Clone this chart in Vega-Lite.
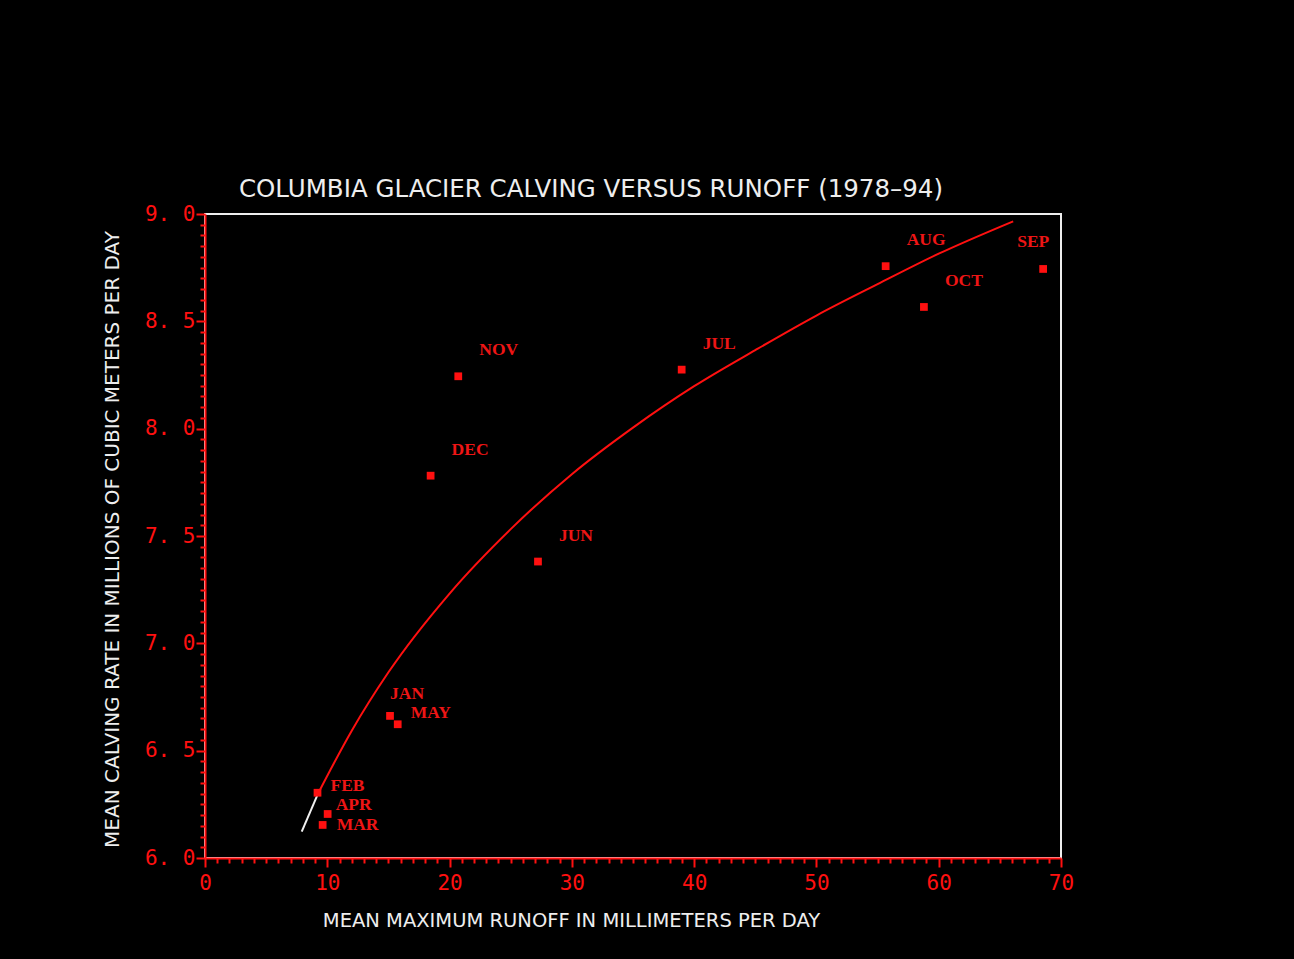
{
  "$schema": "https://vega.github.io/schema/vega-lite/v6.json",
  "autosize": "none",
  "width": 856,
  "height": 644,
  "padding": {"left": 205, "top": 214, "right": 233, "bottom": 101},
  "background": "#000000",
  "title": {
    "text": "COLUMBIA GLACIER CALVING VERSUS RUNOFF (1978–94)",
    "anchor": "middle",
    "dx": -42,
    "offset": 1,
    "font": "DejaVu Sans",
    "fontSize": 24.5,
    "fontWeight": "normal",
    "color": "#eeeeee"
  },
  "config": {
    "view": {"stroke": "#eeeeee", "strokeWidth": 2},
    "axis": {
      "grid": false,
      "domainColor": "#ff1010",
      "domainWidth": 2,
      "tickColor": "#ff1010",
      "tickWidth": 2,
      "labelColor": "#ff1010",
      "labelFont": "DejaVu Sans Mono",
      "labelFontSize": 21,
      "labelOverlap": false,
      "labelBound": false,
      "labelFlush": false,
      "titleColor": "#eeeeee",
      "titleFont": "DejaVu Sans",
      "titleFontWeight": "normal",
      "zindex": 1
    }
  },
  "datasets": {
    "months": [
      {"month": "JAN", "runoff": 15.13, "calving": 6.662},
      {"month": "FEB", "runoff": 9.20, "calving": 6.304},
      {"month": "MAR", "runoff": 9.62, "calving": 6.154},
      {"month": "APR", "runoff": 10.03, "calving": 6.205},
      {"month": "MAY", "runoff": 15.76, "calving": 6.623},
      {"month": "JUN", "runoff": 27.23, "calving": 7.381},
      {"month": "JUL", "runoff": 38.98, "calving": 8.275},
      {"month": "AUG", "runoff": 55.66, "calving": 8.757},
      {"month": "SEP", "runoff": 68.54, "calving": 8.744},
      {"month": "OCT", "runoff": 58.79, "calving": 8.567},
      {"month": "NOV", "runoff": 20.71, "calving": 8.244},
      {"month": "DEC", "runoff": 18.45, "calving": 7.781}
    ],
    "curve": [
      {"segment": "extrapolated", "runoff": 7.91, "calving": 6.123},
      {"segment": "extrapolated", "runoff": 9.26, "calving": 6.302},
      {"segment": "fitted", "runoff": 9.26, "calving": 6.302},
      {"segment": "fitted", "runoff": 12, "calving": 6.593},
      {"segment": "fitted", "runoff": 15, "calving": 6.865},
      {"segment": "fitted", "runoff": 20, "calving": 7.232},
      {"segment": "fitted", "runoff": 25, "calving": 7.532},
      {"segment": "fitted", "runoff": 30, "calving": 7.788},
      {"segment": "fitted", "runoff": 35, "calving": 8.005},
      {"segment": "fitted", "runoff": 40, "calving": 8.198},
      {"segment": "fitted", "runoff": 45, "calving": 8.366},
      {"segment": "fitted", "runoff": 50, "calving": 8.527},
      {"segment": "fitted", "runoff": 55, "calving": 8.673},
      {"segment": "fitted", "runoff": 60, "calving": 8.815},
      {"segment": "fitted", "runoff": 66.09, "calving": 8.966}
    ]
  },
  "encoding": {
    "x": {
      "field": "runoff",
      "type": "quantitative",
      "scale": {"domain": [0, 70], "nice": false, "zero": false},
      "axis": {
        "title": "MEAN MAXIMUM RUNOFF IN MILLIMETERS PER DAY",
        "titleFontSize": 19.5,
        "titleX": 366,
        "titleY": 62,
        "titleAlign": "center",
        "titleBaseline": "middle",
        "tickCount": 70,
        "tickSize": {"condition": {"test": "datum.value % 10 === 0", "value": 9}, "value": 5},
        "labelExpr": "datum.value % 10 === 0 ? datum.label : ''",
        "labelPadding": 5
      }
    },
    "y": {
      "field": "calving",
      "type": "quantitative",
      "scale": {"domain": [6, 9], "nice": false, "zero": false},
      "axis": {
        "title": "MEAN CALVING RATE IN MILLIONS OF CUBIC METERS PER DAY",
        "titleFontSize": 20,
        "titleX": -93,
        "titleY": 325,
        "titleAngle": -90,
        "titleAlign": "center",
        "titleBaseline": "middle",
        "tickCount": 60,
        "tickSize": {"condition": {"test": "abs(datum.value * 2 - round(datum.value * 2)) < 0.001", "value": 9}, "value": 5},
        "labelExpr": "abs(datum.value * 2 - round(datum.value * 2)) < 0.001 ? replace(format(datum.value, '.1f'), '.', '. ') : ''",
        "labelPadding": 1,
        "labelBaseline": "middle"
      }
    }
  },
  "layer": [
    {
      "data": {"name": "curve"},
      "transform": [{"filter": "datum.segment === 'fitted'"}],
      "mark": {"type": "line", "color": "#ff1010", "strokeWidth": 2, "interpolate": "monotone"},
      "encoding": {"order": {"field": "runoff", "type": "quantitative"}}
    },
    {
      "data": {"name": "curve"},
      "transform": [{"filter": "datum.segment === 'extrapolated'"}],
      "mark": {"type": "line", "color": "#f0f0f0", "strokeWidth": 2},
      "encoding": {}
    },
    {
      "data": {"name": "months"},
      "mark": {"type": "square", "filled": true, "color": "#ff1010", "size": 60, "opacity": 1}
    },
    {
      "data": {"name": "months"},
      "transform": [{"filter": "indexof(['DEC','NOV','JUN','JUL','AUG','OCT'], datum.month) >= 0"}],
      "mark": {"type": "text", "align": "left", "baseline": "middle", "dx": 21, "dy": -26, "font": "Liberation Serif", "fontWeight": "bold", "fontSize": 17.5, "color": "#ee1515"},
      "encoding": {"text": {"field": "month"}}
    },
    {
      "data": {"name": "months"},
      "transform": [{"filter": "datum.month === 'FEB'"}],
      "mark": {"type": "text", "align": "left", "baseline": "middle", "dx": 13, "dy": -7, "font": "Liberation Serif", "fontWeight": "bold", "fontSize": 17.5, "color": "#ee1515"},
      "encoding": {"text": {"field": "month"}}
    },
    {
      "data": {"name": "months"},
      "transform": [{"filter": "datum.month === 'APR'"}],
      "mark": {"type": "text", "align": "left", "baseline": "middle", "dx": 8, "dy": -9, "font": "Liberation Serif", "fontWeight": "bold", "fontSize": 17.5, "color": "#ee1515"},
      "encoding": {"text": {"field": "month"}}
    },
    {
      "data": {"name": "months"},
      "transform": [{"filter": "datum.month === 'MAR'"}],
      "mark": {"type": "text", "align": "left", "baseline": "middle", "dx": 14, "dy": 0, "font": "Liberation Serif", "fontWeight": "bold", "fontSize": 17.5, "color": "#ee1515"},
      "encoding": {"text": {"field": "month"}}
    },
    {
      "data": {"name": "months"},
      "transform": [{"filter": "datum.month === 'JAN'"}],
      "mark": {"type": "text", "align": "left", "baseline": "middle", "dx": 0, "dy": -22, "font": "Liberation Serif", "fontWeight": "bold", "fontSize": 17.5, "color": "#ee1515"},
      "encoding": {"text": {"field": "month"}}
    },
    {
      "data": {"name": "months"},
      "transform": [{"filter": "datum.month === 'MAY'"}],
      "mark": {"type": "text", "align": "left", "baseline": "middle", "dx": 13, "dy": -11, "font": "Liberation Serif", "fontWeight": "bold", "fontSize": 17.5, "color": "#ee1515"},
      "encoding": {"text": {"field": "month"}}
    },
    {
      "data": {"name": "months"},
      "transform": [{"filter": "datum.month === 'SEP'"}],
      "mark": {"type": "text", "align": "left", "baseline": "middle", "dx": -26, "dy": -27, "font": "Liberation Serif", "fontWeight": "bold", "fontSize": 17.5, "color": "#ee1515"},
      "encoding": {"text": {"field": "month"}}
    }
  ]
}
